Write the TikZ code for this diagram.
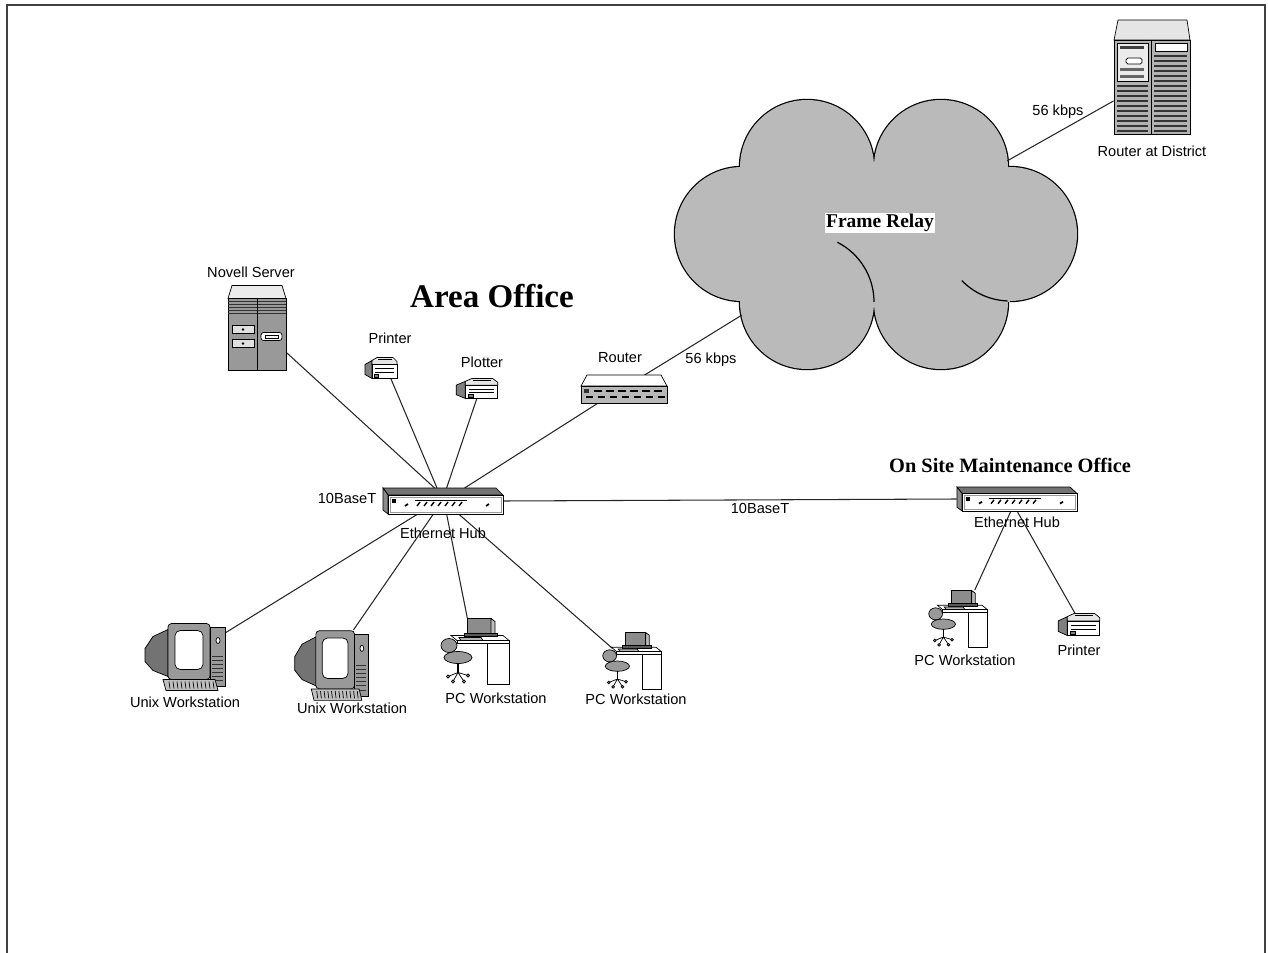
\documentclass[tikz,border=0pt]{standalone}
\usepackage{fontspec}
\setmainfont{Liberation Serif}
\setsansfont{Liberation Sans}
\usetikzlibrary{positioning,calc}

\begin{document}
\begin{tikzpicture}[
  x=0.02cm, y=-0.02cm,
  dev/.style={inner sep=0pt,outer sep=0pt},
  lbl/.style={font=\sffamily\fontsize{8.3}{10}\selectfont,inner sep=0pt},
  ttl/.style={font=\bfseries\fontsize{11.6}{13}\selectfont,inner sep=0pt},
  wire/.style={line width=0.6pt,black!85},
  cloudfill/.style={fill=black!27},
  % tower server
  srvicon/.pic={
    \draw[fill=black!8] (-25,-42) -- (25,-42) -- (29,-29) -- (-29,-29) -- cycle;
    \draw[fill=black!40] (-29,-29) rectangle (29,43);
    \foreach \yy in {-26,-23,...,-12} \draw[black!80] (-29,\yy) -- (29,\yy);
    \draw (0,-29) -- (0,43);
    \draw[fill=black!12] (-25,-2) rectangle (-3,6);
    \draw[fill=black!12] (-25,12) rectangle (-3,20);
    \fill (-14,2) circle[radius=1.3];
    \fill (-14,16) circle[radius=1.3];
    \draw[fill=white,rounded corners=1.5pt] (4,5) rectangle (25,13);
    \draw (8,7.5) rectangle (21,10.5);
  },
  % small desktop printer
  prnicon/.pic={
    \draw[fill=black!50] (-16,-3) -- (-9,-7) -- (-9,11) -- (-16,7) -- cycle;
    \draw[fill=black!10] (-9,-7) -- (-4,-10) -- (12,-10) -- (16,-6) -- (16,-3) -- (-9,-3) -- cycle;
    \draw (-3,-8) -- (11,-8);
    \draw[fill=white] (-9,-3) rectangle (16,11);
    \draw (-6,1) -- (13,1);
    \draw (-6,5) -- (13,5);
    \draw[fill=black!50] (-7,7) rectangle (-3,10);
  },
  % flat router box
  rtricon/.pic={
    \draw[fill=white] (-37,-14) -- (37,-14) -- (43,-3) -- (-43,-3) -- cycle;
    \draw[fill=black!28] (-43,-3) rectangle (43,14);
    \fill[black!80] (-40,0) rectangle (-35,4);
    \foreach \xx in {-30,-18,...,36} \draw[line width=0.9pt] (\xx,2) -- (\xx+8,2);
    \foreach \xx in {-38,-26,...,36} \draw[line width=0.9pt] (\xx,8) -- (\xx+7,8);
  },
  % cabinet router
  cabicon/.pic={
    \draw[fill=black!10] (-34,-57) -- (35,-57) -- (38,-37) -- (-38,-37) -- cycle;
    \draw[fill=black!30] (-38,-37) rectangle (38,57);
    \draw (-1,-37) -- (-1,57);
    \draw[fill=black!8] (-35,-34) rectangle (-4,4);
    \fill[black!75] (-32,-31) rectangle (-8,-28);
    \draw[fill=white,rounded corners=1pt] (-26,-19) rectangle (-10,-13);
    \fill[black!60] (-32,-9) rectangle (-8,-6);
    \fill[black!60] (-32,-2) rectangle (-8,1);
    \foreach \yy in {8,13,...,53} \fill[black!80] (-35,\yy) rectangle (-4,\yy+2);
    \draw[fill=white] (3,-34) rectangle (35,-26);
    \foreach \yy in {-22,-17,...,53} \fill[black!80] (2,\yy) rectangle (35,\yy+2);
  },
  % ethernet hub
  hubicon/.pic={
    \draw[fill=black!55] (-60,-13) -- (53,-13) -- (60,-6) -- (-55,-6) -- cycle;
    \draw[fill=black!45] (-60,-13) -- (-55,-6) -- (-55,13) -- (-60,9) -- cycle;
    \draw[fill=white] (-55,-6) rectangle (60,13);
    \draw[black!40] (-53,-4) rectangle (58,11);
    \fill (-51,-2) rectangle (-47,2);
    \draw[line width=1pt] (-38,5) -- (-35,3);
    \draw (-28,-1) -- (24,-1);
    \foreach \xx in {-26,-19,...,20} \draw[line width=0.8pt] (\xx,5) -- (\xx+3,1);
    \draw[line width=1pt] (43,5) -- (46,3);
  },
  % unix workstation
  uxicon/.pic={
    \draw[fill=black!55] (-17,-27) -- (-32,-20) -- (-40,-8) -- (-40,5) -- (-32,14) -- (-17,20) -- cycle;
    \draw[fill=black!40,rounded corners=2pt] (-17,-33) rectangle (25,23);
    \draw[fill=white,rounded corners=3pt] (-10,-26) rectangle (18,13);
    \draw[fill=black!40] (25,-29) rectangle (40,30);
    \draw[fill=white] (33,-16) ellipse[x radius=2, y radius=3];
    \foreach \yy in {0,4,...,26} \draw[black!80] (27,\yy) -- (38,\yy);
    \draw[fill=black!25] (-22,23) -- (30,23) -- (33,34) -- (-19,34) -- cycle;
    \foreach \xx in {-16,-12,...,28} \draw (\xx,25) -- (\xx+1,32);
  },
  % pc workstation on a desk
  pcicon/.pic={
    \draw[fill=white] (-24,-16) -- (28,-16) -- (34,-11) -- (-18,-11) -- cycle;
    \draw[fill=white] (-18,-11) rectangle (34,-8);
    \draw[fill=white] (12,-8) rectangle (34,33);
    \draw[fill=black!45] (-8,-33) rectangle (16,-18);
    \draw[fill=black!25] (16,-33) -- (20,-30) -- (20,-17) -- (16,-18) -- cycle;
    \draw[fill=black!65] (-11,-18) rectangle (22,-15);
    \draw[fill=black!30] (-16,-14) -- (6,-14) -- (8,-11) -- (-14,-11) -- cycle;
    \draw[fill=black!40] (-26,-6) ellipse[x radius=8, y radius=7];
    \draw[fill=black!40] (-17,6) ellipse[x radius=14, y radius=6];
    \draw[line width=1pt] (-17,12) -- (-17,21);
    \draw (-17,21) -- (-27,25) (-17,21) -- (-7,24) (-17,21) -- (-22,30) (-17,21) -- (-11,30);
    \foreach \px/\py in {-27/25,-7/24,-22/30,-11/30} \draw[fill=black!40] (\px,\py) circle[radius=1.6];
  },
]
  \useasboundingbox (0,0) rectangle (1268,953);
  \draw[line width=1.2pt,black!75] (7,953) -- (7,5) -- (1265,5) -- (1265,953);

  % frame relay cloud: strokes first, the fills on top leave only the outline
  \foreach \cx/\cy in {807/167,941/167,742/234,1010/234,807/302,941/302}
    \draw[line width=1.4pt] (\cx,\cy) circle[radius=67];
  \fill[cloudfill] (742,167) rectangle (1010,302);
  \foreach \cx/\cy in {807/167,941/167,742/234,1010/234,807/302,941/302}
    \fill[cloudfill] (\cx,\cy) circle[radius=67];
  \draw[line width=0.7pt] (807,302) ++(-63:67) arc[start angle=-63,end angle=0,radius=67];
  \draw[line width=0.7pt] (1010,234) ++(136:67) arc[start angle=136,end angle=92,radius=67];
  \coordinate (frW) at (742,315);
  \coordinate (frE) at (1007,161);
  \node[font=\bfseries\fontsize{11.1}{13}\selectfont,fill=white,inner sep=0.8pt,
        text height=7.8pt,text depth=2.4pt] (frL) at (880,223) {Frame Relay};

  % devices
  \node[dev,minimum width=1.16cm,minimum height=1.7cm] (srv) at (257,327.5) {};
  \node[dev,minimum width=0.64cm,minimum height=0.42cm] (prn) at (381,367.5) {};
  \node[dev,minimum width=0.84cm,minimum height=0.4cm] (plt) at (477,388) {};
  \node[dev,minimum width=1.72cm,minimum height=0.56cm] (rtr) at (624,389) {};
  \node[dev,minimum width=1.54cm,minimum height=2.28cm] (dist) at (1152,77) {};
  \node[dev,minimum width=2.4cm,minimum height=0.52cm] (hubA) at (443,501) {};
  \node[dev,minimum width=2.42cm,minimum height=0.48cm] (hubB) at (1017,499) {};
  \node[dev,minimum width=1.6cm,minimum height=1.34cm] (ux1) at (185,656.5) {};
  \node[dev,minimum width=1.46cm,minimum height=1.4cm] (ux2) at (331.5,665) {};
  \node[dev,minimum width=1.4cm,minimum height=1.34cm] (pc1) at (475,651.5) {};
  \node[dev,minimum width=1.2cm,minimum height=1.16cm] (pc2) at (632,661) {};
  \node[dev,minimum width=1.2cm,minimum height=1.16cm] (pc3) at (958,619) {};
  \node[dev,minimum width=0.84cm,minimum height=0.44cm] (prn2) at (1079,624) {};

  % cabling
  \draw[wire] ($(srv.north east)!0.79!(srv.south east)$) -- ($(hubA.north west)!0.43!(hubA.north east)$);
  \draw[wire] ($(prn.south west)!0.8!(prn.south east)$) -- ($(hubA.north west)!0.45!(hubA.north east)$);
  \draw[wire] (plt.south) -- ($(hubA.north west)!0.53!(hubA.north east)$);
  \draw[wire] ($(rtr.south west)!0.2!(rtr.south east)$) -- ($(hubA.north west)!0.68!(hubA.north east)$);
  \draw[wire] ($(rtr.north west)!0.74!(rtr.north east)$) -- (frW);
  \draw[wire] (frE) -- ($(dist.north west)!0.71!(dist.south west)$);
  \draw[wire] (hubA.east) -- (hubB.west);
  \draw[wire] ($(hubA.south west)!0.29!(hubA.south east)$) -- ($(ux1.north east)!0.15!(ux1.south east)$);
  \draw[wire] ($(hubA.south west)!0.42!(hubA.south east)$) -- ($(ux2.north west)!0.8!(ux2.north east)$);
  \draw[wire] ($(hubA.south west)!0.53!(hubA.south east)$) -- ($(pc1.north west)!0.39!(pc1.north east)$);
  \draw[wire] ($(hubA.south west)!0.63!(hubA.south east)$) -- ($(pc2.north west)+(10,16)$);
  \draw[wire] ($(hubB.south west)!0.45!(hubB.south east)$) -- ($(pc3.north west)!0.78!(pc3.north east)$);
  \draw[wire] ($(hubB.south west)!0.5!(hubB.south east)$) -- ($(prn2.north west)!0.4!(prn2.north east)$);

  % icons over the cable ends
  \pic at (srv) {srvicon};
  \pic at (prn) {prnicon};
  \pic[xscale=1.3,yscale=0.95] at (plt) {prnicon};
  \pic at (rtr) {rtricon};
  \pic at (dist) {cabicon};
  \pic at (hubA) {hubicon};
  \pic[yscale=0.92] at (hubB) {hubicon};
  \pic at (ux1) {uxicon};
  \pic[xscale=0.92,yscale=1.04] at (ux2) {uxicon};
  \pic at (pc1) {pcicon};
  \pic[scale=0.86] at (pc2) {pcicon};
  \pic[scale=0.86] at (pc3) {pcicon};
  \pic[xscale=1.3,yscale=1.05] at (prn2) {prnicon};

  % labels
  \node[font=\bfseries\fontsize{18.8}{22}\selectfont,inner sep=0pt] (areaL) at (492,296) {Area Office};
  \node[ttl] (siteL) at (1010,465) {On Site Maintenance Office};
  \node[lbl] (srvL) at (251,272) {Novell Server};
  \node[lbl] (prnL) at (390,338) {Printer};
  \node[lbl] (pltL) at (482,362) {Plotter};
  \node[lbl] (rtrL) at (620,358) {Router};
  \node[lbl] (kbpsA) at (711,360) {56 kbps};
  \node[lbl] (kbpsB) at (1058,112) {56 kbps};
  \node[lbl,below=0.24cm of dist] (distL) {Router at District};
  \node[lbl] (baseA) at (347,498) {10BaseT};
  \node[lbl] (baseB) at (760,508) {10BaseT};
  \node[lbl,below=0.28cm of hubA] (hubAL) {Ethernet Hub};
  \node[lbl,below=0.12cm of hubB] (hubBL) {Ethernet Hub};
  \node[lbl,below=0.14cm of ux1] (ux1L) {Unix Workstation};
  \node[lbl] (ux2L) at (352,708) {Unix Workstation};
  \node[lbl] (pc1L) at (496,698) {PC Workstation};
  \node[lbl] (pc2L) at (636,699) {PC Workstation};
  \node[lbl] (pc3L) at (965,660) {PC Workstation};
  \node[lbl,below=0.2cm of prn2] (prn2L) {Printer};
\end{tikzpicture}
\end{document}
